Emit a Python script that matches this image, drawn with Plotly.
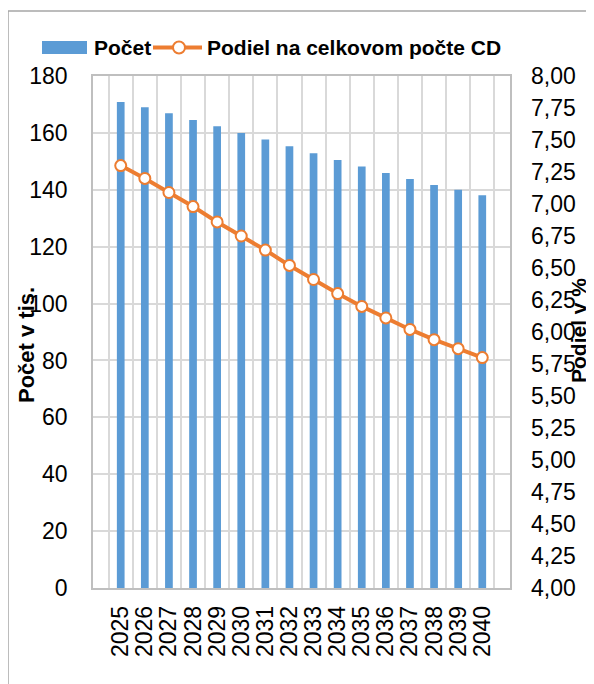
import plotly.graph_objects as go

# data
years = [str(y) for y in range(2025, 2041)]
pocet = [170.9, 169.0, 166.9, 164.5, 162.3, 160.0, 157.7, 155.3,
         152.8, 150.5, 148.2, 145.9, 143.8, 141.7, 140.0, 138.1]
podiel = [7.30, 7.20, 7.09, 6.98, 6.86, 6.75, 6.64, 6.52,
          6.41, 6.30, 6.20, 6.11, 6.02, 5.94, 5.87, 5.80]

left_ticks = list(range(0, 181, 20))
right_ticks = [4 + 0.25 * i for i in range(17)]

BLUE = '#5B9BD5'
ORANGE = '#ED7D31'
FONT = 'Liberation Sans, Arial, sans-serif'

# the page body adds an 8px margin, so the figure starts at (8, 8)
OFF = 8
W, H = 594 - OFF, 684 - OFF
# plot area in page pixels: x 93..510, y 76..588
L, R, T, B = 93 - OFF, 594 - 510, 76 - OFF, 684 - 588
pw, ph = W - L - R, H - T - B


def px(x):
    # page pixel -> paper x
    return (x - OFF - L) / pw


def py(y):
    # page pixel -> paper y
    return (H - B - (y - OFF)) / ph


fig = go.Figure()
fig.add_trace(go.Bar(x=years, y=pocet, name='Počet', marker_color=BLUE,
                     marker_line_width=0, width=0.32))
fig.add_trace(go.Scatter(x=years, y=podiel, name='Podiel na celkovom počte CD', yaxis='y2',
                         mode='lines+markers', line=dict(color=ORANGE, width=4),
                         marker=dict(size=11, color='white', line=dict(color=ORANGE, width=2))))

grid = '#D9D9D9'
border = '#BFBFBF'
fig.update_layout(
    width=W, height=H, autosize=False,
    margin=dict(l=L, r=R, t=T, b=B, pad=0),
    paper_bgcolor='white', plot_bgcolor='white',
    separators=', ',
    showlegend=False,
    font=dict(family=FONT, size=23, color='black'),
    xaxis=dict(type='category', tickmode='array', tickvals=years, ticktext=years,
               tickson='boundaries', showgrid=True, gridcolor=grid, gridwidth=1.5,
               tickangle=-90, ticks='', ticklabelstandoff=7, showline=True, linecolor=border,
               linewidth=1.5, mirror=True, automargin=False, tickfont=dict(size=23)),
    yaxis=dict(range=[0, 180], tickvals=left_ticks, showgrid=True, gridcolor=grid, gridwidth=1.5,
               zeroline=False, showline=True, linecolor=border, linewidth=1.5, mirror=True,
               ticks='', ticklabelstandoff=19, automargin=False, tickfont=dict(size=23)),
    yaxis2=dict(range=[4, 8], tickvals=right_ticks, tickformat='.2f', overlaying='y', side='right',
                showgrid=False, zeroline=False, showline=False, ticks='', ticklabelstandoff=20,
                automargin=False, tickfont=dict(size=23)),
)

# outer chart frame (cut by the page edges)
fig.add_shape(type='rect', xref='paper', yref='paper', x0=px(8), x1=px(640), y0=py(740), y1=py(11),
              line=dict(color='#A6A6A6', width=1.5), layer='below')

# legend drawn by hand
fig.add_shape(type='rect', xref='paper', yref='paper', x0=px(42), x1=px(87), y0=py(54), y1=py(41),
              fillcolor=BLUE, line_width=0)
fig.add_shape(type='line', xref='paper', yref='paper', x0=px(153), x1=px(202), y0=py(47.5), y1=py(47.5),
              line=dict(color=ORANGE, width=4))
fig.add_shape(type='circle', xref='paper', yref='paper', x0=px(173), x1=px(185), y0=py(53.5), y1=py(41.5),
              fillcolor='white', line=dict(color=ORANGE, width=2))
fig.add_annotation(text='Počet', xref='paper', yref='paper', x=px(92), y=py(47.5), xanchor='left',
                   yanchor='middle', showarrow=False, font=dict(size=21, weight='bold'))
fig.add_annotation(text='Podiel na celkovom počte CD', xref='paper', yref='paper', x=px(205), y=py(47.5),
                   xanchor='left', yanchor='middle', showarrow=False, font=dict(size=21, weight='bold'))

# axis titles
fig.add_annotation(text='Počet v tis.', xref='paper', yref='paper', x=px(26), y=py(345), textangle=-90,
                   xanchor='center', yanchor='middle', showarrow=False, font=dict(size=22, weight='bold'))
fig.add_annotation(text='Podiel v %', xref='paper', yref='paper', x=px(578), y=py(331), textangle=-90,
                   xanchor='center', yanchor='middle', showarrow=False, font=dict(size=21, weight='bold'))

fig.write_html('out.html')
